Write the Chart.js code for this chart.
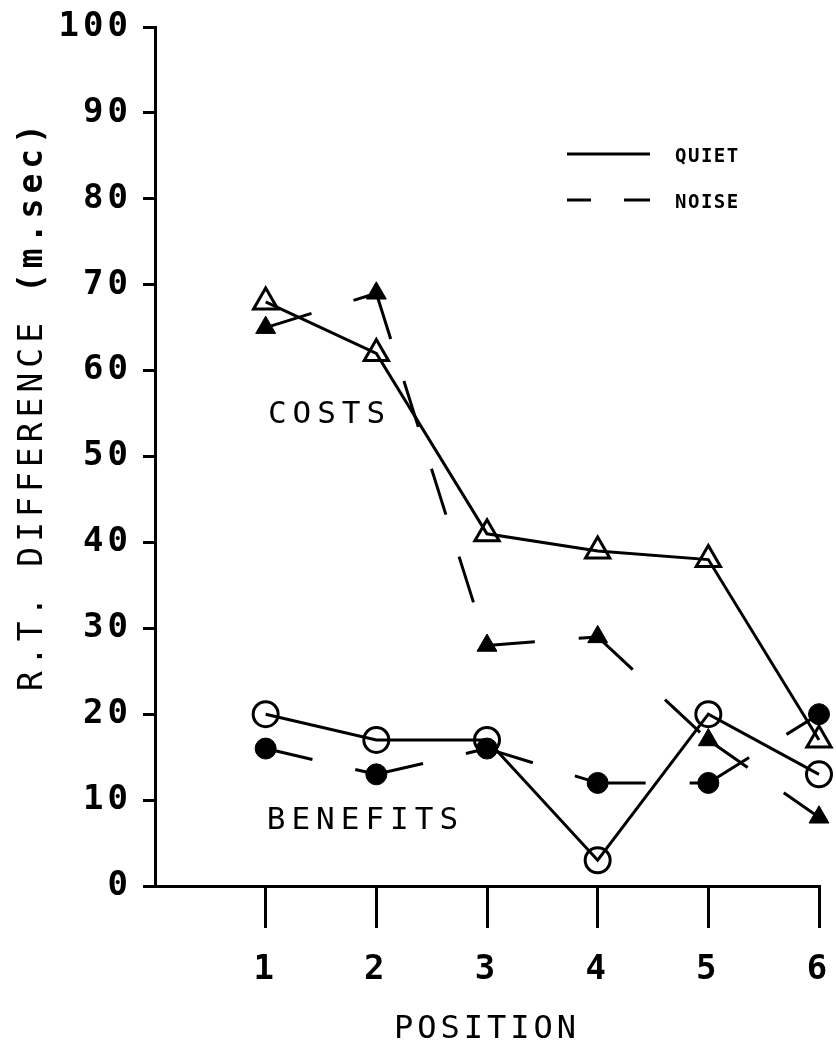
<!DOCTYPE html>
<html>
<head>
<meta charset="utf-8">
<script src="https://cdn.jsdelivr.net/npm/chart.js@4.4.1/dist/chart.umd.min.js"></script>
<style>
  html, body { margin: 0; padding: 0; background: #ffffff; }
  #wrap { width: 836px; height: 1049px; }
</style>
</head>
<body>
<div id="wrap"><canvas id="c" width="836" height="1049"></canvas></div>
<script>
// ---- data ----
const positions = [1, 2, 3, 4, 5, 6];
const quietCosts = [68, 62, 41, 39, 38, 17];
const noiseCosts = [65, 69, 28, 29, 17, 8];
const quietBenefits = [20, 17, 17, 3, 20, 13];
const noiseBenefits = [16, 13, 16, 12, 12, 20];
const yTickValues = [0, 10, 20, 30, 40, 50, 60, 70, 80, 90, 100];
const conditionLabels = ['QUIET', 'NOISE'];
const groupLabels = ['COSTS', 'BENEFITS'];
const xTitle = 'POSITION';
const yTitleParts = ['R.T. DIFFERENCE ', '(m.sec)'];

const MONO = '"DejaVu Sans Mono", monospace';
const pts = vals => positions.map((p, i) => ({ x: p, y: vals[i] }));
// restart the dash pattern at every data point (plotter style)
const restartDash = { borderDashOffset: c => (c.p0DataIndex % 2) * 0.01 };

function spacedWidth(ctx, text, spacing) {
  ctx.letterSpacing = '0px';
  return ctx.measureText(text).width + text.length * spacing;
}

const textPlugin = {
  id: 'plotterTexts',
  beforeDraw(chart) {
    chart.ctx.letterSpacing = '4px';
  },
  afterDraw(chart) {
    const { ctx, scales: { x, y } } = chart;
    ctx.save();
    ctx.fillStyle = '#000';
    ctx.strokeStyle = '#000';
    ctx.textAlign = 'left';
    ctx.textBaseline = 'alphabetic';

    // group annotations
    const gSize = 31;
    ctx.font = gSize + 'px ' + MONO;
    ctx.letterSpacing = '6px';
    ctx.fillText(groupLabels[0], x.getPixelForValue(1.02), y.getPixelForValue(55.2) + gSize * 0.365);
    ctx.fillText(groupLabels[1], x.getPixelForValue(1.01), y.getPixelForValue(8.0) + gSize * 0.365);

    // legend
    ctx.lineWidth = 3;
    ctx.setLineDash([]);
    ctx.beginPath();
    ctx.moveTo(567, 154); ctx.lineTo(650, 154);
    ctx.moveTo(567, 200); ctx.lineTo(591, 200);
    ctx.moveTo(624, 200); ctx.lineTo(650, 200);
    ctx.stroke();
    const lSize = 19;
    ctx.font = 'bold ' + lSize + 'px ' + MONO;
    ctx.letterSpacing = '1.5px';
    ctx.fillText(conditionLabels[0], 675, 155 + lSize * 0.365);
    ctx.fillText(conditionLabels[1], 675, 201 + lSize * 0.365);

    // y axis title (rotated)
    const tSize = 33, sp = 5;
    const f1 = tSize + 'px ' + MONO, f2 = 'bold ' + tSize + 'px ' + MONO;
    ctx.font = f1; const w1 = spacedWidth(ctx, yTitleParts[0], sp);
    ctx.font = f2; const w2 = spacedWidth(ctx, yTitleParts[1], sp);
    ctx.translate(30 + tSize * 0.365, 405);
    ctx.rotate(-Math.PI / 2);
    const start = -(w1 + w2) / 2;
    ctx.letterSpacing = sp + 'px';
    ctx.font = f1; ctx.fillText(yTitleParts[0], start, 0);
    ctx.font = f2; ctx.fillText(yTitleParts[1], start + w1, 0);
    ctx.restore();
  }
};

new Chart(document.getElementById('c'), {
  type: 'scatter',
  data: {
    datasets: [
      {
        label: 'Quiet costs', data: pts(quietCosts), showLine: true,
        borderColor: '#000', borderWidth: 3,
        pointStyle: 'triangle', pointRadius: 14, pointBorderWidth: 3,
        pointBorderColor: '#000', pointBackgroundColor: 'rgba(255,255,255,0)'
      },
      {
        label: 'Noise costs', data: pts(noiseCosts), showLine: true,
        borderColor: '#000', borderWidth: 3, borderDash: [48, 44], segment: restartDash,
        pointStyle: 'triangle', pointRadius: 11.5, pointBorderWidth: 1,
        pointBorderColor: '#000', pointBackgroundColor: '#000'
      },
      {
        label: 'Quiet benefits', data: pts(quietBenefits), showLine: true,
        borderColor: '#000', borderWidth: 3,
        pointStyle: 'circle', pointRadius: 12.5, pointBorderWidth: 3,
        pointBorderColor: '#000', pointBackgroundColor: 'rgba(255,255,255,0)'
      },
      {
        label: 'Noise benefits', data: pts(noiseBenefits), showLine: true,
        borderColor: '#000', borderWidth: 3, borderDash: [48, 44], segment: restartDash,
        pointStyle: 'circle', pointRadius: 10.5, pointBorderWidth: 1,
        pointBorderColor: '#000', pointBackgroundColor: '#000'
      }
    ]
  },
  options: {
    responsive: false,
    animation: false,
    events: [],
    clip: false,
    layout: { padding: { left: 0, right: 14, top: 27, bottom: 0 } },
    plugins: { legend: { display: false }, tooltip: { enabled: false } },
    scales: {
      x: {
        type: 'linear', min: 0, max: 6,
        afterBuildTicks: s => { s.ticks = positions.map(v => ({ value: v })); },
        afterFit: s => { s.height = 163; s.paddingLeft = 0; s.paddingRight = 0; },
        grid: { drawOnChartArea: false, drawTicks: true, tickLength: 42, lineWidth: 3, color: '#000' },
        border: { display: true, color: '#000', width: 3 },
        ticks: { color: '#000', padding: 22, maxRotation: 0, font: { family: MONO, size: 34, weight: 'bold' } },
        title: { display: true, text: xTitle, color: '#000', padding: { top: 0, bottom: 0 },
                 font: { family: MONO, size: 32 } }
      },
      y: {
        min: 0, max: 100,
        afterBuildTicks: s => { s.ticks = yTickValues.map(v => ({ value: v })); },
        afterFit: s => { s.width = 155; s.paddingTop = 0; s.paddingBottom = 0; },
        grid: { drawOnChartArea: false, drawTicks: true, tickLength: 12, lineWidth: 3, color: '#000' },
        border: { display: true, color: '#000', width: 3 },
        ticks: { color: '#000', padding: 11, font: { family: MONO, size: 34, weight: 'bold' } }
      }
    }
  },
  plugins: [textPlugin]
});
</script>
</body>
</html>
